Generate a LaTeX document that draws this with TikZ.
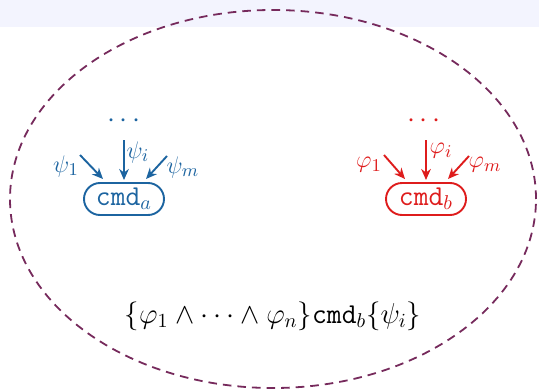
\documentclass[tikz,border=0pt]{standalone}
\usetikzlibrary{arrows.meta}
\definecolor{cblue}{RGB}{28,100,160}
\definecolor{cred}{RGB}{222,28,28}
\definecolor{cpurp}{RGB}{118,42,92}
\definecolor{cband}{RGB}{243,244,254}
\begin{document}
\begin{tikzpicture}[x=0.5pt,y=-0.5pt,
  every node/.style={font=\fontsize{14.3}{17}\selectfont},
  cmdbox/.style={draw,line width=0.95pt,rounded corners=8pt,minimum width=40pt,minimum height=16pt,inner sep=1pt},
  arr/.style={line width=0.95pt,-{Stealth[length=5.5pt,width=4.8pt]}},
  lbl/.style={inner sep=0pt,font=\fontsize{12.8}{15}\selectfont}]
\useasboundingbox (0,0) rectangle (539,390);
\fill[cband] (0,0) rectangle (539,27);
\draw[cpurp,line width=0.9pt,dash pattern=on 4.3pt off 3pt] (273,199) ellipse [x radius=263*0.5pt, y radius=189*0.5pt];
% left
\begin{scope}[cblue]
\node[cmdbox] (ca) at (124,199) {$\mathtt{cmd}_a$};
\node[inner sep=0pt] (da) at (124,121) {$\cdots$};
\coordinate (a1s) at (80,155); \coordinate (a1e) at (103,179);
\coordinate (ais) at (124,140); \coordinate (aie) at (124,180);
\coordinate (ams) at (167,156); \coordinate (ame) at (146,179);
\draw[arr] (a1s) -- (a1e);
\draw[arr] (ais) -- (aie);
\draw[arr] (ams) -- (ame);
\node[lbl] (la1) at (66,166) {$\psi_1$};
\node[lbl] (lai) at (138,152) {$\psi_i$};
\node[lbl] (lam) at (183,167) {$\psi_m$};
\end{scope}
% right
\begin{scope}[cred]
\node[cmdbox] (cb) at (426,199) {$\mathtt{cmd}_b$};
\node[inner sep=0pt] (db) at (424,121) {$\cdots$};
\coordinate (b1s) at (384,155); \coordinate (b1e) at (405,179);
\coordinate (bis) at (426,140); \coordinate (bie) at (426,180);
\coordinate (bms) at (469,156); \coordinate (bme) at (448,179);
\draw[arr] (b1s) -- (b1e);
\draw[arr] (bis) -- (bie);
\draw[arr] (bms) -- (bme);
\node[lbl] (lb1) at (369,165) {$\varphi_1$};
\node[lbl] (lbi) at (441,151) {$\varphi_i$};
\node[lbl] (lbm) at (485,165) {$\varphi_m$};
\end{scope}
\node (hoare) at (273,316) {$\{\varphi_1\wedge\cdots\wedge\varphi_n\}\mathtt{cmd}_b\{\psi_i\}$};
\end{tikzpicture}
\end{document}
